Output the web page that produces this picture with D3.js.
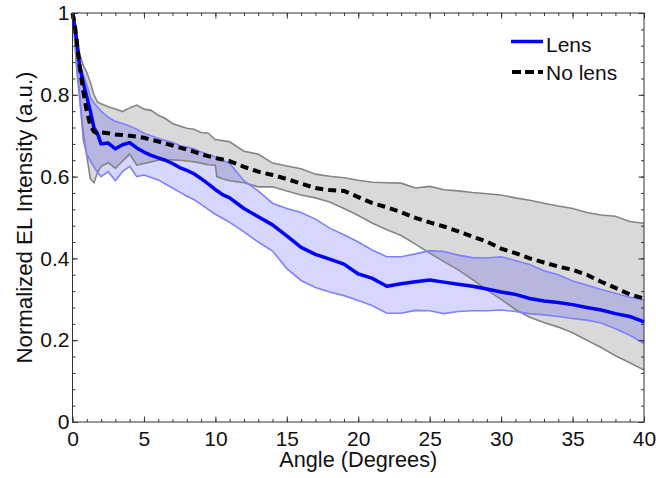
<!DOCTYPE html>
<html>
<head>
<meta charset="utf-8">
<script src="https://cdn.jsdelivr.net/npm/d3@7"></script>
<style>
  html, body { margin: 0; padding: 0; background: #fff; }
  svg { display: block; }
  text { font-family: "Liberation Sans", Arial, Helvetica, sans-serif; fill: #111; }
</style>
</head>
<body>
<svg id="chart" width="656" height="478"></svg>
<script>
// Emission angle (degrees)
const angle = [0, 0.15, 0.3, 0.5, 0.75, 1.0, 1.25, 1.5, 1.75, 2, 2.5, 3, 3.5, 4, 4.5, 5, 5.5, 6, 6.5, 7, 7.5, 8, 8.5, 9, 9.5, 10, 10.1, 10.5, 11,
  12, 13, 14, 15, 16, 17, 18, 19, 20, 21, 22, 23, 24, 25, 26, 27, 28, 29, 30, 31, 32, 33, 34, 35, 36, 37, 38, 39, 40];

// Lens: mean and spread
const lensMean = [1.0, 0.97, 0.93, 0.87, 0.83, 0.795, 0.76, 0.72, 0.705, 0.68, 0.682, 0.668, 0.678, 0.683, 0.67, 0.66, 0.652, 0.646, 0.64, 0.632, 0.622, 0.615, 0.607, 0.595, 0.582, 0.568, 0.566, 0.556, 0.548,
  0.522, 0.502, 0.482, 0.455, 0.427, 0.41, 0.398, 0.386, 0.362, 0.351, 0.332, 0.338, 0.343, 0.347, 0.342, 0.337, 0.332, 0.325, 0.318, 0.312, 0.302, 0.296, 0.292, 0.287, 0.28, 0.274, 0.265, 0.258, 0.245];
const lensUpper = [1.0, 0.975, 0.94, 0.88, 0.85, 0.825, 0.795, 0.78, 0.77, 0.76, 0.745, 0.735, 0.73, 0.724, 0.716, 0.706, 0.70, 0.694, 0.688, 0.684, 0.676, 0.672, 0.668, 0.66, 0.654, 0.648, 0.647, 0.64, 0.632,
  0.59, 0.565, 0.535, 0.522, 0.512, 0.496, 0.474, 0.458, 0.44, 0.42, 0.404, 0.404, 0.411, 0.419, 0.417, 0.408, 0.402, 0.401, 0.404, 0.395, 0.385, 0.37, 0.36, 0.345, 0.335, 0.324, 0.315, 0.305, 0.298];
const lensLower = [1.0, 0.96, 0.88, 0.80, 0.69, 0.655, 0.638, 0.624, 0.61, 0.60, 0.612, 0.59, 0.612, 0.625, 0.60, 0.604, 0.598, 0.592, 0.582, 0.572, 0.562, 0.552, 0.544, 0.532, 0.52, 0.508, 0.506, 0.498, 0.488,
  0.465, 0.44, 0.418, 0.375, 0.346, 0.329, 0.318, 0.309, 0.297, 0.284, 0.266, 0.266, 0.273, 0.272, 0.265, 0.27, 0.272, 0.272, 0.274, 0.27, 0.265, 0.262, 0.258, 0.253, 0.249, 0.242, 0.228, 0.212, 0.192];

// No lens: mean and spread
const noLensMean = [1.0, 0.975, 0.93, 0.87, 0.81, 0.76, 0.725, 0.71, 0.705, 0.708, 0.706, 0.703, 0.702, 0.70, 0.698, 0.695, 0.69, 0.686, 0.681, 0.676, 0.671, 0.666, 0.661, 0.655, 0.65, 0.646, 0.645, 0.642, 0.638,
  0.624, 0.612, 0.604, 0.594, 0.583, 0.572, 0.567, 0.565, 0.55, 0.535, 0.525, 0.513, 0.499, 0.488, 0.478, 0.466, 0.453, 0.441, 0.424, 0.413, 0.40, 0.39, 0.38, 0.372, 0.36, 0.343, 0.328, 0.312, 0.302];
const noLensUpper = [1.0, 0.975, 0.945, 0.90, 0.872, 0.855, 0.83, 0.80, 0.782, 0.778, 0.771, 0.765, 0.759, 0.768, 0.775, 0.765, 0.762, 0.75, 0.742, 0.73, 0.724, 0.718, 0.716, 0.708, 0.706, 0.69, 0.69, 0.688, 0.685,
  0.662, 0.655, 0.633, 0.626, 0.619, 0.606, 0.601, 0.597, 0.591, 0.586, 0.585, 0.584, 0.572, 0.576, 0.568, 0.565, 0.561, 0.558, 0.555, 0.548, 0.542, 0.535, 0.528, 0.522, 0.512, 0.506, 0.503, 0.49, 0.486];
const noLensLower = [1.0, 0.93, 0.86, 0.79, 0.71, 0.65, 0.595, 0.585, 0.61, 0.625, 0.634, 0.62, 0.638, 0.655, 0.628, 0.632, 0.636, 0.64, 0.641, 0.641, 0.64, 0.638, 0.636, 0.633, 0.629, 0.628, 0.60, 0.595, 0.59,
  0.585, 0.575, 0.575, 0.565, 0.555, 0.548, 0.538, 0.522, 0.505, 0.486, 0.47, 0.456, 0.435, 0.413, 0.392, 0.372, 0.348, 0.323, 0.30, 0.275, 0.256, 0.243, 0.232, 0.218, 0.20, 0.182, 0.162, 0.145, 0.127];

const xTicks = [0, 5, 10, 15, 20, 25, 30, 35, 40];
const yTicks = [0, 0.2, 0.4, 0.6, 0.8, 1];
const yTickLabels = ["0", "0.2", "0.4", "0.6", "0.8", "1"];
const legendLabels = ["Lens", "No lens"];

const svg = d3.select("#chart");
const x = d3.scaleLinear().domain([0, 40]).range([72.5, 644]);
const y = d3.scaleLinear().domain([0, 1]).range([422, 13]);

const pts = (vals) => angle.map((a, i) => [a, vals[i]]);
const band = (lo, hi) => angle.map((a, i) => ({ a, lo: lo[i], hi: hi[i] }));

const area = d3.area().x(d => x(d.a)).y0(d => y(d.lo)).y1(d => y(d.hi));
const line = d3.line().x(d => x(d[0])).y(d => y(d[1]));

const plot = svg.append("g");

// shaded spreads
plot.append("path").datum(band(noLensLower, noLensUpper)).attr("d", area)
  .attr("fill", "#000").attr("fill-opacity", 0.15);
plot.append("path").datum(band(lensLower, lensUpper)).attr("d", area)
  .attr("fill", "#0000ff").attr("fill-opacity", 0.16);

// spread edges
[noLensUpper, noLensLower].forEach(v => plot.append("path").datum(pts(v)).attr("d", line)
  .attr("fill", "none").attr("stroke", "#858585").attr("stroke-width", 1.6));
[lensUpper, lensLower].forEach(v => plot.append("path").datum(pts(v)).attr("d", line)
  .attr("fill", "none").attr("stroke", "#8080ff").attr("stroke-width", 1.6));

// means
plot.append("path").datum(pts(lensMean)).attr("d", line)
  .attr("fill", "none").attr("stroke", "#0000ff").attr("stroke-width", 3.5).attr("stroke-linejoin", "round");
plot.append("path").datum(pts(noLensMean)).attr("d", line)
  .attr("fill", "none").attr("stroke", "#000").attr("stroke-width", 4).attr("stroke-dasharray", "8,5");

// axes frame and ticks (inward, mirrored on all sides)
const axisColor = "#333";
function styleAxis(g) {
  g.select(".domain").remove();
  g.selectAll("line").attr("stroke", axisColor);
  g.selectAll("text").attr("fill", "#111").style("font-size", "21px")
    .style("font-family", '"Liberation Sans", Arial, sans-serif');
}
const minorX = d3.range(0, 41, 1);
const minorY = d3.range(0, 1.001, 0.04);

svg.append("g").attr("transform", `translate(0,${y(0)})`)
  .call(d3.axisBottom(x).tickValues(minorX).tickSize(-3).tickFormat("")).call(styleAxis);
svg.append("g").attr("transform", `translate(0,${y(1)})`)
  .call(d3.axisTop(x).tickValues(minorX).tickSize(-3).tickFormat("")).call(styleAxis);
svg.append("g").attr("transform", `translate(${x(0)},0)`)
  .call(d3.axisLeft(y).tickValues(minorY).tickSize(-3).tickFormat("")).call(styleAxis);
svg.append("g").attr("transform", `translate(${x(40)},0)`)
  .call(d3.axisRight(y).tickValues(minorY).tickSize(-3).tickFormat("")).call(styleAxis);

svg.append("g").attr("transform", `translate(0,${y(0)})`)
  .call(d3.axisBottom(x).tickValues(xTicks).tickSize(-5.5).tickPadding(9).tickFormat(d3.format("d"))).call(styleAxis);
svg.append("g").attr("transform", `translate(0,${y(1)})`)
  .call(d3.axisTop(x).tickValues(xTicks).tickSize(-5.5).tickFormat("")).call(styleAxis);
svg.append("g").attr("transform", `translate(${x(0)},0)`)
  .call(d3.axisLeft(y).tickValues(yTicks).tickSize(-5.5).tickPadding(3).tickFormat((d, i) => yTickLabels[i])).call(styleAxis);
svg.append("g").attr("transform", `translate(${x(40)},0)`)
  .call(d3.axisRight(y).tickValues(yTicks).tickSize(-5.5).tickFormat("")).call(styleAxis);

svg.append("rect").attr("x", x(0)).attr("y", y(1))
  .attr("width", x(40) - x(0)).attr("height", y(0) - y(1))
  .attr("fill", "none").attr("stroke", axisColor).attr("stroke-width", 1);

// axis titles
svg.append("text").attr("x", (x(0) + x(40)) / 2).attr("y", 467)
  .attr("text-anchor", "middle").style("font-size", "21.5px")
  .attr("textLength", 158).attr("lengthAdjust", "spacingAndGlyphs").text("Angle (Degrees)");
svg.append("text").attr("transform", `translate(31.5,${(y(0) + y(1)) / 2}) rotate(-90)`)
  .attr("text-anchor", "middle").style("font-size", "22px")
  .attr("textLength", 292).attr("lengthAdjust", "spacingAndGlyphs").text("Normalized EL Intensity (a.u.)");

// legend
const legend = svg.append("g");
legend.append("line").attr("x1", 511).attr("x2", 543).attr("y1", 41.5).attr("y2", 41.5)
  .attr("stroke", "#0000ff").attr("stroke-width", 3.5);
legend.append("text").attr("x", 546).attr("y", 52).style("font-size", "21px").text(legendLabels[0]);
legend.append("line").attr("x1", 512).attr("x2", 543).attr("y1", 72).attr("y2", 72)
  .attr("stroke", "#000").attr("stroke-width", 4).attr("stroke-dasharray", "9,4");
legend.append("text").attr("x", 546).attr("y", 80).style("font-size", "21px").text(legendLabels[1]);
</script>
</body>
</html>
